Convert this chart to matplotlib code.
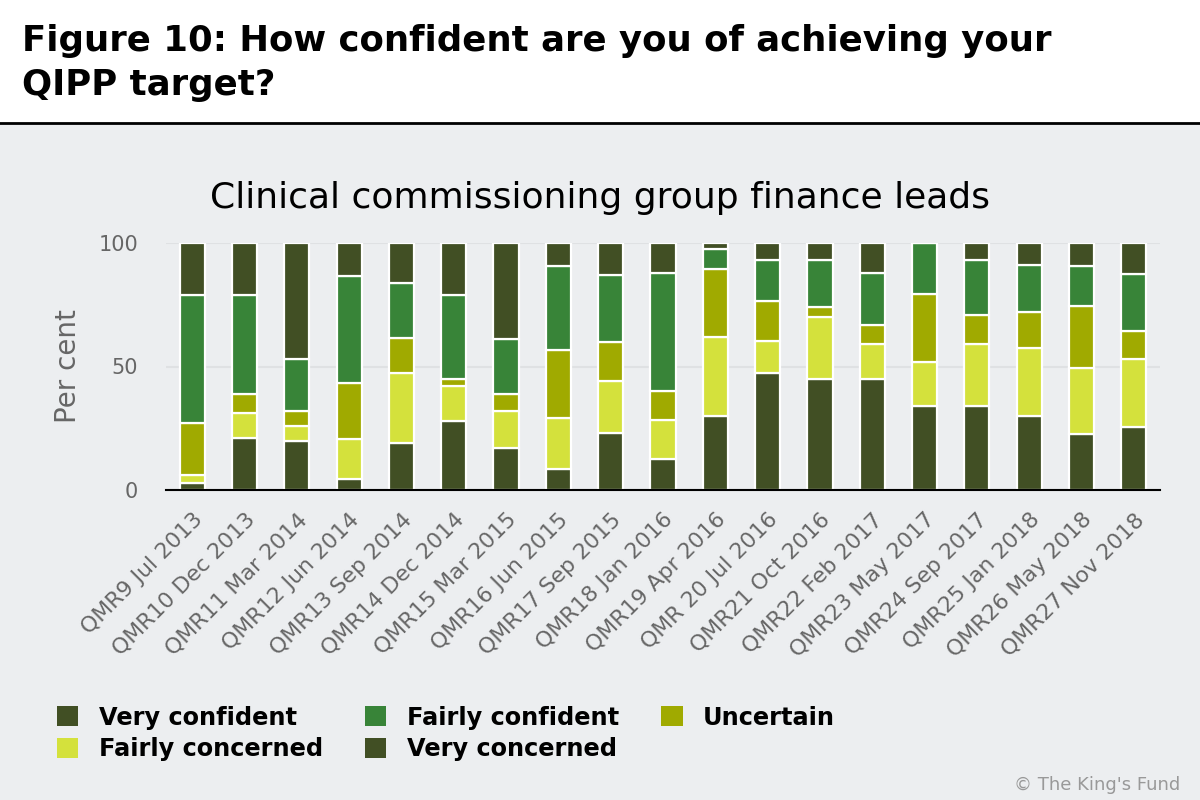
import matplotlib
matplotlib.use("Agg")
import matplotlib.pyplot as plt
from matplotlib.patches import Rectangle
import numpy as np

categories = ["QMR9 Jul 2013", "QMR10 Dec 2013", "QMR11 Mar 2014", "QMR12 Jun 2014",
              "QMR13 Sep 2014", "QMR14 Dec 2014", "QMR15 Mar 2015", "QMR16 Jun 2015",
              "QMR17 Sep 2015", "QMR18 Jan 2016", "QMR19 Apr 2016", "QMR 20 Jul 2016",
              "QMR21 Oct 2016", "QMR22 Feb 2017", "QMR23 May 2017", "QMR24 Sep 2017",
              "QMR25 Jan 2018", "QMR26 May 2018", "QMR27 Nov 2018"]

# stacked bottom -> top
very_concerned = [3, 21, 20, 4.5, 19, 28, 17, 8.5, 23, 12.5, 30, 47.5, 45, 45, 34, 34, 30, 22.5, 25.5]
fairly_concerned = [3, 10, 6, 16, 28.5, 14, 15, 20.5, 21, 16, 32, 13, 25, 14, 18, 25, 27.5, 27, 27.5]
uncertain = [21, 8, 6, 23, 14, 3, 7, 27.5, 16, 11.5, 27.5, 16, 4, 8, 27.5, 12, 14.5, 25, 11.5]
fairly_confident = [52, 40, 21, 43, 22.5, 34, 22, 34, 27, 48, 8, 16.5, 19, 21, 20.5, 22, 19, 16, 23]
very_confident = [21, 21, 47, 13.5, 16, 21, 39, 9.5, 13, 12, 2.5, 7, 7, 12, 0, 7, 9, 9.5, 12.5]

series = [
    ("Very concerned", very_concerned, "#414f24"),
    ("Fairly concerned", fairly_concerned, "#d4e13c"),
    ("Uncertain", uncertain, "#a0aa00"),
    ("Fairly confident", fairly_confident, "#388438"),
    ("Very confident", very_confident, "#414f24"),
]

bg = "#eceef0"
fig = plt.figure(figsize=(12, 8), dpi=100, facecolor=bg)

# white header band with rule
fig.patches.append(Rectangle((0, 1 - 123 / 800), 1, 123 / 800, transform=fig.transFigure,
                             facecolor="white", edgecolor="none", zorder=0))
fig.add_artist(plt.Line2D([0, 1], [1 - 123 / 800] * 2, transform=fig.transFigure,
                          color="black", linewidth=2))
fig.text(22 / 1200, 1 - 51 / 800, "Figure 10: How confident are you of achieving your",
         fontsize=25.6, fontweight="bold", va="baseline", ha="left")
fig.text(22 / 1200, 1 - 95 / 800, "QIPP target?",
         fontsize=25.6, fontweight="bold", va="baseline", ha="left")

ax = fig.add_axes([166 / 1200, 1 - 490 / 800, 994 / 1200, 247 / 800])
ax.set_facecolor(bg)

x = np.arange(len(categories))
bottom = np.zeros(len(categories))
bars = {}
for name, vals, col in series:
    vals = np.array(vals, dtype=float)
    bars[name] = ax.bar(x, vals, bottom=bottom, width=0.48, color=col,
                        edgecolor="white", linewidth=1.6, zorder=3)
    bottom += vals

ax.set_xlim(-0.5, len(categories) - 0.5)
ax.set_ylim(0, 100)
ax.set_yticks([0, 50, 100])
ax.tick_params(axis="y", length=0, pad=20, labelsize=15, labelcolor="#666666")
ax.tick_params(axis="x", length=0, pad=14, labelsize=15.8, labelcolor="#666666")
ax.set_xticks(x)
ax.set_xticklabels(categories, rotation=45, ha="right", rotation_mode="anchor")
ax.grid(axis="y", color="#dfe1e3", linewidth=1.5, zorder=0)
for s in ["top", "right", "left"]:
    ax.spines[s].set_visible(False)
ax.spines["bottom"].set_color("black")
ax.spines["bottom"].set_linewidth(1.5)
ax.spines["bottom"].set_zorder(4)
ax.set_ylabel("Per cent", fontsize=20, color="#666666", labelpad=12)

fig.text(600 / 1200, 1 - 208 / 800, "Clinical commissioning group finance leads",
         fontsize=26, ha="center", va="baseline", color="black")

order = ["Very confident", "Fairly concerned", "Fairly confident", "Very concerned", "Uncertain"]
leg = fig.legend([bars[n] for n in order], order, ncol=3, loc="upper left",
                 bbox_to_anchor=(35 / 1200, 1 - 684 / 800), frameon=False,
                 prop={"weight": "bold", "size": 17.3}, handlelength=0.9, handleheight=0.9,
                 handletextpad=0.85, columnspacing=1.75, labelspacing=0.3)
for h in leg.legend_handles:
    h.set_edgecolor("none")

fig.text(1180 / 1200, 1 - 790 / 800, "\u00a9 The King's Fund", fontsize=13,
         color="#999999", ha="right", va="baseline")

fig.savefig("out.png", dpi=100, facecolor=bg)
